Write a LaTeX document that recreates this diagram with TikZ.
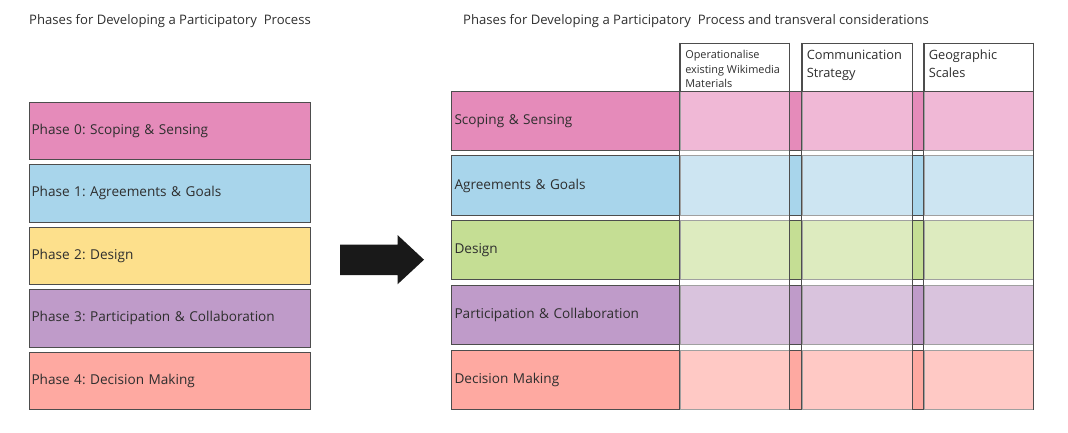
\documentclass[tikz,border=0pt]{standalone}
\usepackage{fontspec}
\setmainfont{Open Sans}
\frenchspacing
\definecolor{pinkD}{HTML}{E58BBA}
\definecolor{pinkL}{HTML}{F0B8D6}
\definecolor{blueD}{HTML}{A8D5EB}
\definecolor{blueL}{HTML}{CDE5F2}
\definecolor{yellowD}{HTML}{FDE08C}
\definecolor{greenD}{HTML}{C5DE94}
\definecolor{greenL}{HTML}{DDEBBF}
\definecolor{purpleD}{HTML}{BF9BC9}
\definecolor{purpleL}{HTML}{D9C3DD}
\definecolor{salmonD}{HTML}{FEA9A1}
\definecolor{salmonL}{HTML}{FFC9C5}
\definecolor{txt}{HTML}{2E2E2E}
\definecolor{edge}{HTML}{4D4D4D}
\definecolor{soft}{HTML}{A0A0A0}
\begin{document}
\begin{tikzpicture}[x=1pt,y=-1pt,
  title/.style={anchor=west,inner sep=0pt,text=txt,font=\fontsize{13.1}{15}\selectfont},
  phasebox/.style={draw=edge,line width=0.9pt,minimum width=281pt,minimum height=57.5pt,
    text width=276pt,inner xsep=2.5pt,align=left,text=txt,font=\fontsize{13.6}{16}\selectfont},
  rowbox/.style={draw=edge,line width=0.9pt,minimum width=582pt,minimum height=59.5pt,
    text width=575pt,inner xsep=3.5pt,align=left,text=txt,font=\fontsize{13.6}{16}\selectfont},
  cellbox/.style={draw=soft,line width=0.8pt,minimum height=59.5pt,inner sep=0pt},
  headbox/.style={draw=edge,line width=0.9pt,minimum height=48pt,inner sep=0pt},
  headtext/.style={anchor=north west,inner sep=0pt,align=left,text=txt},
]
\useasboundingbox (0,0) rectangle (1068,432);
% titles
\node[title] (tl) at (29,21.5) {Phases for Developing a Participatory\ \ Process};
\node[title] (tr) at (463,21.5) {Phases for Developing a Participatory\ \ Process and transveral considerations};
% left phases
\node[phasebox,fill=pinkD]   (p0) at (169.5,130.75) {Phase 0: Scoping \& Sensing};
\node[phasebox,fill=blueD]   (p1) at (169.5,193.25) {Phase 1: Agreements \& Goals};
\node[phasebox,fill=yellowD] (p2) at (169.5,255.75) {Phase 2: Design};
\node[phasebox,fill=purpleD] (p3) at (169.5,318.25) {Phase 3: Participation \& Collaboration};
\node[phasebox,fill=salmonD] (p4) at (169.5,380.75) {Phase 4: Decision Making};
% arrow
\fill[fill=black!90] (340,244.5) -- (397.5,244.5) -- (397.5,235) -- (424,259.7)
  -- (397.5,284.3) -- (397.5,275) -- (340,275) -- cycle;
% right rows
\foreach \n/\y/\d/\l/\t in {0/121/pinkD/pinkL/Scoping \& Sensing,
  1/185.5/blueD/blueL/Agreements \& Goals,
  2/250/greenD/greenL/Design,
  3/315/purpleD/purpleL/Participation \& Collaboration,
  4/380/salmonD/salmonL/Decision Making}{
  \node[rowbox,fill=\d] (r\n) at (742,\y) {\t};
  \node[cellbox,fill=\l,minimum width=109pt] (a\n) at (734.5,\y) {};
  \node[cellbox,fill=\l,minimum width=110pt] (b\n) at (857,\y) {};
  \node[cellbox,fill=\l,minimum width=109pt] (c\n) at (978.5,\y) {};
}
% header boxes
\node[headbox,minimum width=109pt] (h1) at (734.5,67) {};
\node[headbox,minimum width=110pt] (h2) at (857,67) {};
\node[headbox,minimum width=109pt] (h3) at (978.5,67) {};
\node[headtext,font=\fontsize{10.9}{14.7}\selectfont] (t1) at ([xshift=5.5pt,yshift=-7.5pt]h1.north west)
  {Operationalise\\existing Wikimedia\\Materials};
\node[headtext,font=\fontsize{12.8}{18}\selectfont] (t2) at ([xshift=5pt,yshift=-7.5pt]h2.north west)
  {Communication\\Strategy};
\node[headtext,font=\fontsize{12.8}{18}\selectfont] (t3) at ([xshift=5pt,yshift=-7.5pt]h3.north west)
  {Geographic\\Scales};
% column frames
\foreach \c in {1,2,3}{
  \draw[edge,line width=0.9pt] (h\c.north west) -- (h\c.west |- r4.south);
  \draw[edge,line width=0.9pt] (h\c.north east) -- (h\c.east |- r4.south);
}
\end{tikzpicture}
\end{document}
